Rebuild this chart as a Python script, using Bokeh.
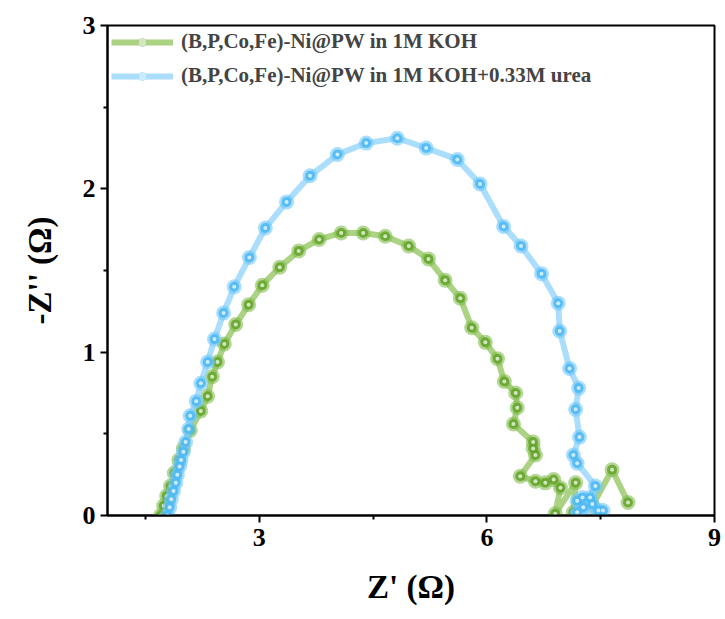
from bokeh.plotting import figure
from bokeh.models import FixedTicker, Legend, LegendItem
from bokeh.embed import file_html
from bokeh.resources import INLINE

# Data (Nyquist plot)
koh_x = [1.70, 1.74, 1.78, 1.83, 1.88, 1.94, 2.00, 2.09, 2.23, 2.32, 2.38, 2.45, 2.54, 2.69,
         2.86, 3.04, 3.27, 3.52, 3.79, 4.08, 4.37, 4.66, 4.97, 5.23, 5.45, 5.65, 5.80, 5.98,
         6.14, 6.23, 6.38, 6.40, 6.35, 6.61, 6.61, 6.64, 6.44, 6.64, 6.77, 6.88, 6.97, 6.90,
         7.17, 7.14, 7.39, 7.65, 7.86]
koh_y = [0.00, 0.06, 0.12, 0.18, 0.26, 0.34, 0.41, 0.52, 0.64, 0.73, 0.85, 0.94, 1.05, 1.17,
         1.29, 1.41, 1.52, 1.62, 1.69, 1.73, 1.73, 1.71, 1.65, 1.57, 1.44, 1.33, 1.15, 1.06,
         0.96, 0.82, 0.75, 0.66, 0.56, 0.45, 0.41, 0.37, 0.24, 0.21, 0.20, 0.22, 0.17, 0.01,
         0.20, 0.02, 0.06, 0.28, 0.08]

urea_x = [1.79, 1.82, 1.84, 1.87, 1.90, 1.92, 1.95, 1.97, 2.00, 2.03, 2.07, 2.09, 2.17, 2.23,
          2.32, 2.41, 2.53, 2.67, 2.87, 3.08, 3.36, 3.67, 4.03, 4.41, 4.82, 5.20, 5.61, 5.91,
          6.22, 6.45, 6.72, 6.94, 6.96, 7.09, 7.21, 7.17, 7.22, 7.14, 7.19, 7.43, 7.36, 7.26,
          7.19, 7.39, 7.27, 7.47, 7.53, 7.19]
urea_y = [0.00, 0.05, 0.10, 0.15, 0.20, 0.25, 0.30, 0.34, 0.39, 0.45, 0.53, 0.61, 0.70, 0.81,
          0.94, 1.08, 1.24, 1.40, 1.58, 1.76, 1.92, 2.08, 2.21, 2.28, 2.31, 2.25, 2.18, 2.03,
          1.77, 1.65, 1.48, 1.30, 1.13, 0.90, 0.78, 0.65, 0.48, 0.37, 0.32, 0.18, 0.11, 0.11,
          0.09, 0.07, 0.05, 0.03, 0.03, 0.02]

labels = ["(B,P,Co,Fe)-Ni@PW in 1M KOH", "(B,P,Co,Fe)-Ni@PW in 1M KOH+0.33M urea"]
x_ticks = [3, 6, 9]
x_minor = [1.5, 4.5, 7.5]
y_ticks = [0, 1, 2, 3]
y_minor = [0.5, 1.5, 2.5]

FONT = "Liberation Serif"

p = figure(width=725, height=619, x_range=(1, 9), y_range=(0, 3),
           output_backend="svg", toolbar_location=None,
           min_border_left=107, min_border_right=11, min_border_top=25, min_border_bottom=104)
p.grid.visible = False
p.outline_line_color = "black"
p.outline_line_width = 2
p.background_fill_color = "white"
p.border_fill_color = "white"

series = [
    (koh_x, koh_y, "#8fc45a", "#82bd4e", "#65a52a"),
    (urea_x, urea_y, "#8fd3fb", "#72c8f8", "#4db8f2"),
]
items = []
for (xs, ys, lc, oc, ic), lab in zip(series, labels):
    r1 = p.line(xs, ys, line_color=lc, line_width=6, line_alpha=0.75)
    r2 = p.scatter(xs, ys, size=15, fill_color=oc, fill_alpha=0.6, line_color=None)
    r3 = p.scatter(xs, ys, size=10, fill_color=ic, fill_alpha=0.85, line_color=None)
    r4 = p.scatter(xs, ys, size=4, fill_color="white", fill_alpha=0.7, line_color=None)
    items.append(LegendItem(label=lab, renderers=[r1, r2, r3, r4]))

legend = Legend(items=items, location="top_left")
legend.border_line_color = None
legend.background_fill_alpha = 0
legend.label_text_font = FONT
legend.label_text_font_style = "bold"
legend.label_text_font_size = "21px"
legend.glyph_width = 62
legend.glyph_height = 20
legend.label_height = 20
legend.spacing = 9
legend.label_standoff = 8
legend.margin = 4
legend.padding = 4
p.add_layout(legend)

p.xaxis.ticker = FixedTicker(ticks=x_ticks, minor_ticks=x_minor)
p.yaxis.ticker = FixedTicker(ticks=y_ticks, minor_ticks=y_minor)
for ax in (p.xaxis, p.yaxis):
    ax.axis_line_width = 2
    ax.major_tick_line_width = 2
    ax.minor_tick_line_width = 2
    ax.major_tick_in = 0
    ax.major_tick_out = 7
    ax.minor_tick_in = 0
    ax.minor_tick_out = 4
    ax.major_label_text_font = FONT
    ax.major_label_text_font_style = "bold"
    ax.major_label_text_font_size = "26px"
    ax.major_label_text_color = "black"
    ax.axis_label_text_font = FONT
    ax.axis_label_text_font_style = "bold"
    ax.axis_label_text_font_size = "33px"
    ax.axis_label_text_color = "black"

p.xaxis.axis_label = "Z' (Ω)"
p.yaxis.axis_label = "-Z'' (Ω)"
p.xaxis.major_label_standoff = 6
p.yaxis.major_label_standoff = 5
p.xaxis.axis_label_standoff = 20
p.yaxis.axis_label_standoff = 22

open("out.html", "w").write(file_html(p, INLINE))
